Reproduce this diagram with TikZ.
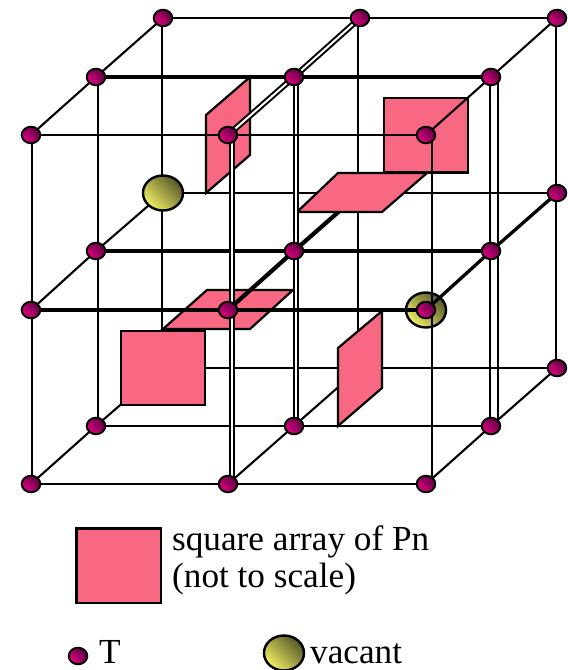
\documentclass[tikz,border=0pt]{standalone}
\usepackage{fontspec}
\setmainfont{Liberation Serif}
\usetikzlibrary{shapes.geometric,calc}
\definecolor{panelc}{RGB}{248,104,130}
\definecolor{tdark}{RGB}{95,0,65}
\definecolor{tlight}{RGB}{225,0,130}
\definecolor{vdark}{RGB}{85,85,40}
\definecolor{vlight}{RGB}{240,240,100}
\tikzset{
 wire/.style={draw=black,line width=2.1pt},
 wirem/.style={draw=black,line width=3.3pt},
 wiret/.style={draw=black,line width=4.2pt},
 twin/.style={draw=black,line width=6pt,postaction={draw=white,line width=2pt}},
 panel/.style={draw=black,line width=2.2pt,fill=panelc,line join=miter},
 tball/.style={ellipse,draw=black,line width=2pt,inner sep=0pt,minimum width=18.5pt,minimum height=16.5pt,left color=tdark,right color=tlight,shading angle=-45},
 vball/.style={ellipse,draw=black,line width=2.4pt,inner sep=0pt,minimum width=40pt,minimum height=35pt,left color=vdark,right color=vlight,shading angle=-45},
 lab/.style={inner sep=0pt,anchor=base west,font=\fontsize{35.2}{35}\selectfont}
}
\begin{document}
\begin{tikzpicture}[x=1pt,y=-1pt]
\useasboundingbox (0,0) rectangle (568,670);
% lattice points: a front, b middle, c back; columns 1-3, levels 1-3 (top to bottom)
\foreach \n/\x/\y in {
 c11/163/18,c21/360/18,c31/557/18,
 c13/163/368,c23/360/368,c33/557/368,c32/557/193,c22/360/193,
 b11/96/77,b21/294/77,b31/491/77,b12/96/251,b22/294/251,b32/491/251,b13/96/426,b23/294/426,b33/491/426,
 a11/31/135,a21/228/135,a31/426/135,a12/31/310,a22/228/310,a32/426/310,a13/31/484,a23/228/484,a33/426/484}
 \coordinate (\n) at (\x,\y);
\coordinate (c12) at (163,193);
% back layer
\draw[wire] (c11) -- (c31);
\draw[wire] (c12) -- (c32);
\draw[wire] (c13) -- (c33);
\draw[wire] ($(c11)+(-1,0)$) -- ($(c13)+(-1,0)$);
\draw[wire] ($(c21)+(-2,0)$) -- ($(c23)+(-2,0)$);
\draw[wire] ($(c31)+(-1,0)$) -- ($(c33)+(-1,0)$);
% middle to back depth lines
\draw[wire] (b11) -- (c11);
\draw[twin] (b21) -- (c21);
\draw[wire] (b31) -- (c31);
\draw[wire] (b12) -- (c12);
\draw[wiret] (b22) -- (c22);
\draw[wirem] (b32) -- (c32);
\draw[wire] (b13) -- (c13);
\draw[wire] (b23) -- (c23);
\draw[wire] (b33) -- (c33);
% panels
\draw[panel] (384,98) rectangle (468,172.5);
\draw[panel] (297,212) -- (338,173) -- (427,173) -- (382,212) -- cycle;
\draw[panel] (206,115) -- (250,77) -- (250,155) -- (206,193) -- cycle;
\draw[panel] (163,329) -- (207,290) -- (293,290) -- (250,329) -- cycle;
\draw[panel] (121,331) rectangle (205,405);
\draw[panel] (338,348) -- (382,311) -- (382,388) -- (338,426) -- cycle;
\node[vball] (v2) at (a32) {};
% middle layer
\draw[wirem] (b11) -- (b31);
\draw[wiret] (b12) -- (b32);
\draw[wire] (b13) -- (b33);
\draw[wire] ($(b11)+(2,0)$) -- ($(b13)+(2,0)$);
\draw[twin] ($(b21)+(2,0)$) -- ($(b23)+(2,0)$);
\draw[wire] ($(b31)+(-1,0)$) -- ($(b33)+(-1,0)$);
\draw[wire] ($(b31)+(7,0)$) -- ($(b33)+(7,0)$);
% front layer
\draw[wire] (a11) -- (b11);
\draw[twin] (a21) -- (b21);
\draw[wire] (a31) -- (b31);
\draw[wire] (a12) -- (b12);
\draw[wiret] (a22) -- (b22);
\draw[wirem] (a32) -- (b32);
\draw[wire] (a13) -- (b13);
\draw[wire] (a23) -- (b23);
\draw[wire] (a33) -- (b33);
\draw[wire] (a11) -- (a31);
\draw[wirem] (a12) -- (a32);
\draw[wire] (a13) -- (a33);
\draw[wire] ($(a11)+(1,0)$) -- ($(a13)+(1,0)$);
\draw[twin] ($(a21)+(4,0)$) -- ($(a23)+(4,0)$);
\draw[wire] ($(a31)+(6,0)$) -- ($(a33)+(6,0)$);
\node[vball] (v1) at (c12) {};
% lattice balls
\foreach \n in {c11,c21,c31,c32,c33,b11,b21,b31,b12,b22,b32,b13,b23,b33,a11,a21,a31,a12,a22,a32,a13,a23,a33}
 \node[tball] (t\n) at (\n) {};
% legend
\draw[panel] (76.5,528.5) rectangle (161,603);
\node[lab] (l1) at (172,550) {square array of Pn};
\node[lab] (l2) at (172,587.5) {(not to scale)};
\node[tball] (lt) at (78,656) {};
\node[lab] (l3) at (99,663) {T};
\node[vball] (lv) at (284,653) {};
\node[lab] (l4) at (310,663) {vacant};
\end{tikzpicture}
\end{document}
